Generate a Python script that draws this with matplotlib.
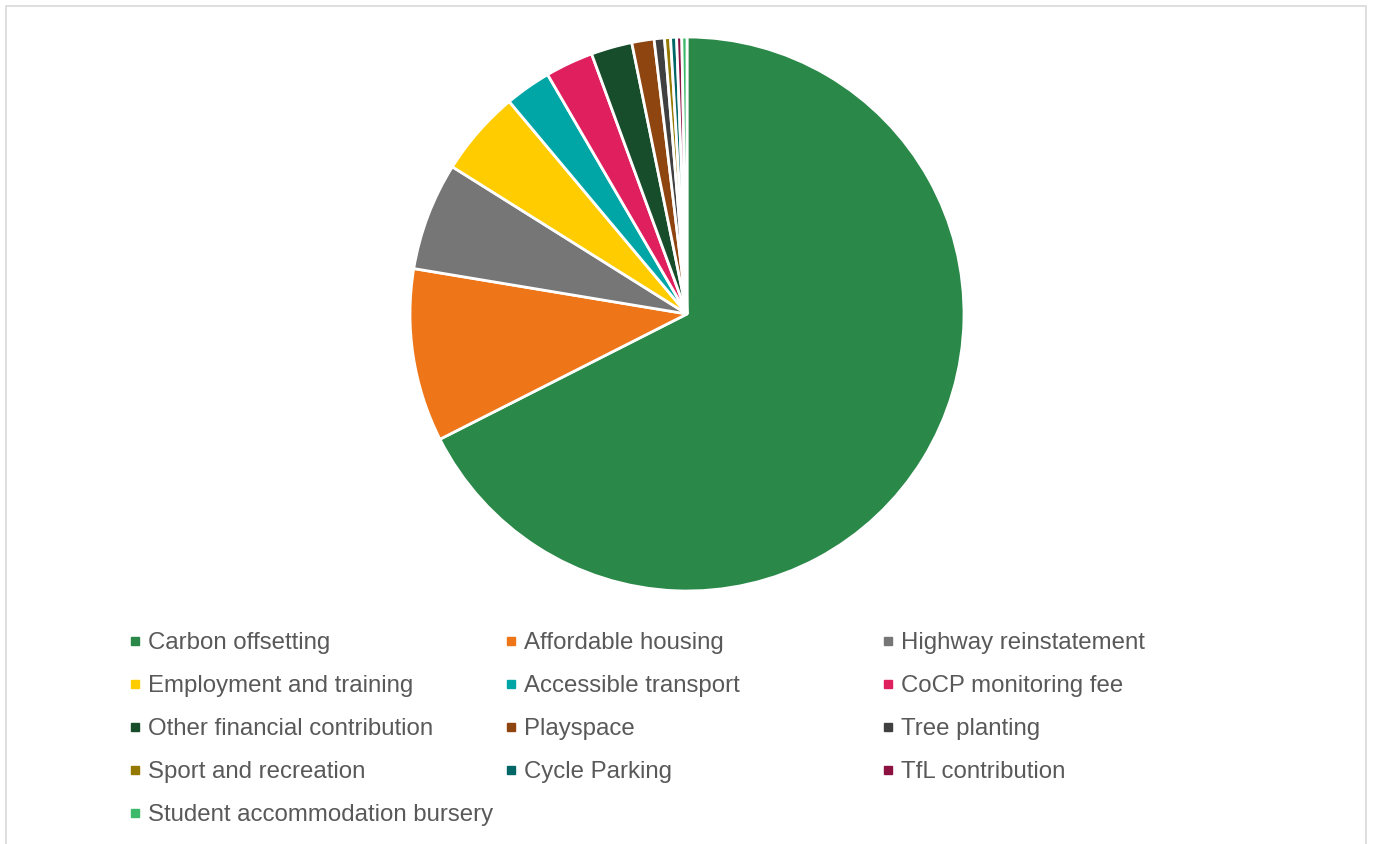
import matplotlib.pyplot as plt
from matplotlib.lines import Line2D
from matplotlib.patches import Rectangle

plt.rcParams['font.family'] = ['Liberation Sans', 'DejaVu Sans']

# data (shares in %)
categories = ["Carbon offsetting", "Affordable housing", "Highway reinstatement",
              "Employment and training", "Accessible transport", "CoCP monitoring fee",
              "Other financial contribution", "Playspace", "Tree planting",
              "Sport and recreation", "Cycle Parking", "TfL contribution",
              "Student accommodation bursery"]
shares = [67.6, 10.1, 6.3, 5.0, 2.7, 2.8, 2.4, 1.3, 0.6, 0.35, 0.35, 0.3, 0.3]
colors = ["#2A8848", "#EE7518", "#767676", "#FFCC00", "#00A5A5", "#E0205E",
          "#184D2C", "#8E4510", "#404040", "#957800", "#006666", "#8C1040",
          "#3CB96A"]

W, H = 1374, 844
fig = plt.figure(figsize=(W / 100, H / 100), dpi=100)

# light frame round the chart area
fig.patches.append(Rectangle((6 / W, -0.05), 1360 / W, 1.05 - 6 / H,
                             transform=fig.transFigure, fill=False,
                             edgecolor="#D9D9D9", linewidth=1.2))

cx, cy, r = 687, 314, 277
ax = fig.add_axes([(cx - r) / W, (H - cy - r) / H, 2 * r / W, 2 * r / H])
ax.pie(shares, colors=colors, startangle=90, counterclock=False,
       wedgeprops=dict(edgecolor="white", linewidth=2))
ax.set_xlim(-1, 1)
ax.set_ylim(-1, 1)
ax.axis("off")

# legend, three columns filled row by row
col_x = [128, 504, 881]
top_y = 632
for c in range(3):
    idx = list(range(c, len(categories), 3))
    handles = [Line2D([], [], marker="s", linestyle="none", markersize=5.5,
                      markerfacecolor=colors[i], markeredgecolor=colors[i])
               for i in idx]
    labels = [categories[i] for i in idx]
    leg = fig.legend(handles, labels, loc="upper left",
                     bbox_to_anchor=(col_x[c] / W, 1 - top_y / H),
                     frameon=False, fontsize=17.25, borderpad=0, borderaxespad=0,
                     handlelength=0.6, handletextpad=0.22, labelspacing=0.88)
    for t in leg.get_texts():
        t.set_color("#595959")

fig.savefig("out.png", dpi=100)
